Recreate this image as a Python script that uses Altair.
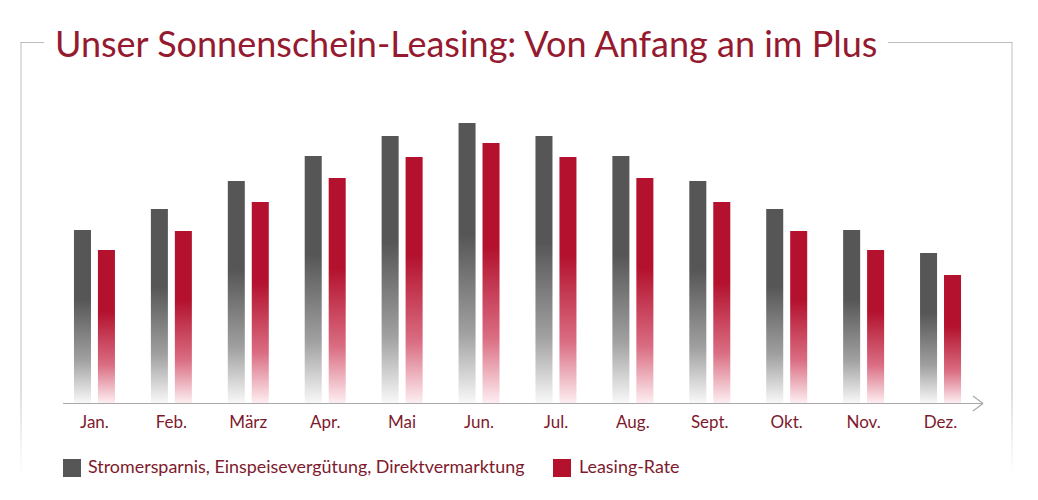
import altair as alt
import pandas as pd

# Monthly values (arbitrary units)
months = ["Jan.", "Feb.", "März", "Apr.", "Mai", "Jun.", "Jul.", "Aug.", "Sept.", "Okt.", "Nov.", "Dez."]
savings = [86.5, 97, 111, 123.5, 133.5, 140, 133.5, 123.5, 111, 97, 86.5, 75]
leasing = [76.5, 86, 100.5, 112.5, 123, 130, 123, 112.5, 100.5, 86, 76.5, 64]
series = ["Stromersparnis, Einspeisevergütung, Direktvermarktung", "Leasing-Rate"]
title_text = "Unser Sonnenschein-Leasing: Von Anfang an im Plus"

GRAY = "#565656"
RED = "#b3112d"
TEXT_RED = "#7e1a2d"
TITLE_RED = "#951a30"
FRAME = "#bdbdbd"
FONT = "Lato"

df = pd.DataFrame(
    [{"month": m, "series": series[0], "value": v} for m, v in zip(months, savings)]
    + [{"month": m, "series": series[1], "value": v} for m, v in zip(months, leasing)]
)


def fade(color, mid, light):
    return alt.LinearGradient(
        gradient="linear", x1=0, y1=0, x2=0, y2=1,
        stops=[
            alt.GradientStop(offset=0, color=color),
            alt.GradientStop(offset=0.4, color=color),
            alt.GradientStop(offset=0.75, color=mid),
            alt.GradientStop(offset=1, color=light),
        ],
    )


x_enc = alt.X(
    "month:N", sort=months,
    scale=alt.Scale(paddingInner=0.467, paddingOuter=0.2335),
    axis=alt.Axis(title=None, domain=False, ticks=False, labelAngle=0,
                  labelFont=FONT, labelFontSize=17, labelColor=TEXT_RED,
                  labelPadding=11, labelBaseline="top"),
)
xo_enc = alt.XOffset("series:N", scale=alt.Scale(domain=series, paddingInner=0.29, paddingOuter=0))
y_enc = alt.Y("value:Q", scale=alt.Scale(domain=[0, 151.5], nice=False), axis=None)

base = alt.Chart(df)
bars_gray = base.transform_filter(alt.datum.series == series[0]).mark_bar(
    color=fade(GRAY, "#a0a0a0", "#f8f8f8")
).encode(x=x_enc, xOffset=xo_enc, y=y_enc)
bars_red = base.transform_filter(alt.datum.series == series[1]).mark_bar(
    color=fade(RED, "#da6d82", "#fdeef1")
).encode(x=x_enc, xOffset=xo_enc, y=y_enc)

one = alt.Chart(pd.DataFrame({"k": [0]}))

# Baseline with arrow head
axis_line = one.mark_rule(color="#a9a9a9", strokeWidth=1.2).encode(
    x=alt.value(7), x2=alt.value(927), y=alt.value(303.5), y2=alt.value(303.5))
arrow_up = one.mark_rule(color="#a9a9a9", strokeWidth=1.2).encode(
    x=alt.value(917), x2=alt.value(927), y=alt.value(296), y2=alt.value(303.5))
arrow_dn = one.mark_rule(color="#a9a9a9", strokeWidth=1.2).encode(
    x=alt.value(917), x2=alt.value(927), y=alt.value(311), y2=alt.value(303.5))

# Frame around the chart, broken by the title
frame_grad = alt.LinearGradient(
    gradient="linear", x1=0, y1=0, x2=0, y2=1,
    stops=[alt.GradientStop(offset=0, color=FRAME),
           alt.GradientStop(offset=0.8, color=FRAME),
           alt.GradientStop(offset=1, color="#ffffff")],
)
frame_top_l = one.mark_rule(color=FRAME).encode(
    x=alt.value(-35.5), x2=alt.value(-12), y=alt.value(-57.5), y2=alt.value(-57.5))
frame_top_r = one.mark_rule(color=FRAME).encode(
    x=alt.value(832), x2=alt.value(956.5), y=alt.value(-57.5), y2=alt.value(-57.5))
frame_left = one.mark_rect(color=frame_grad).encode(
    x=alt.value(-35.5), x2=alt.value(-34.5), y=alt.value(-58), y2=alt.value(375))
frame_right = one.mark_rect(color=frame_grad).encode(
    x=alt.value(955.5), x2=alt.value(956.5), y=alt.value(-58), y2=alt.value(375))

title = one.mark_text(
    text=title_text, font=FONT, fontSize=36, color=TITLE_RED, align="left", baseline="alphabetic"
).encode(x=alt.value(-1), y=alt.value(-43))

# Legend
leg_gray = one.mark_rect(color=GRAY).encode(
    x=alt.value(7), x2=alt.value(25), y=alt.value(359), y2=alt.value(377))
leg_gray_t = one.mark_text(
    text=series[0], font=FONT, fontSize=17.9, color=TEXT_RED, align="left", baseline="middle"
).encode(x=alt.value(32), y=alt.value(368))
leg_red = one.mark_rect(color=RED).encode(
    x=alt.value(497), x2=alt.value(515), y=alt.value(359), y2=alt.value(377))
leg_red_t = one.mark_text(
    text=series[1], font=FONT, fontSize=17.9, color=TEXT_RED, align="left", baseline="middle"
).encode(x=alt.value(523), y=alt.value(368))

chart = alt.layer(
    frame_top_l, frame_top_r, frame_left, frame_right,
    bars_gray, bars_red, axis_line, arrow_up, arrow_dn,
    title, leg_gray, leg_gray_t, leg_red, leg_red_t,
).properties(
    width=923, height=303,
    padding={"left": 56, "top": 100, "right": 59, "bottom": 97},
    autosize=alt.AutoSizeParams(type="none"),
    background="white",
).configure_view(stroke=None)

chart.save("out.html", embed_options={"renderer": "svg", "actions": False})
